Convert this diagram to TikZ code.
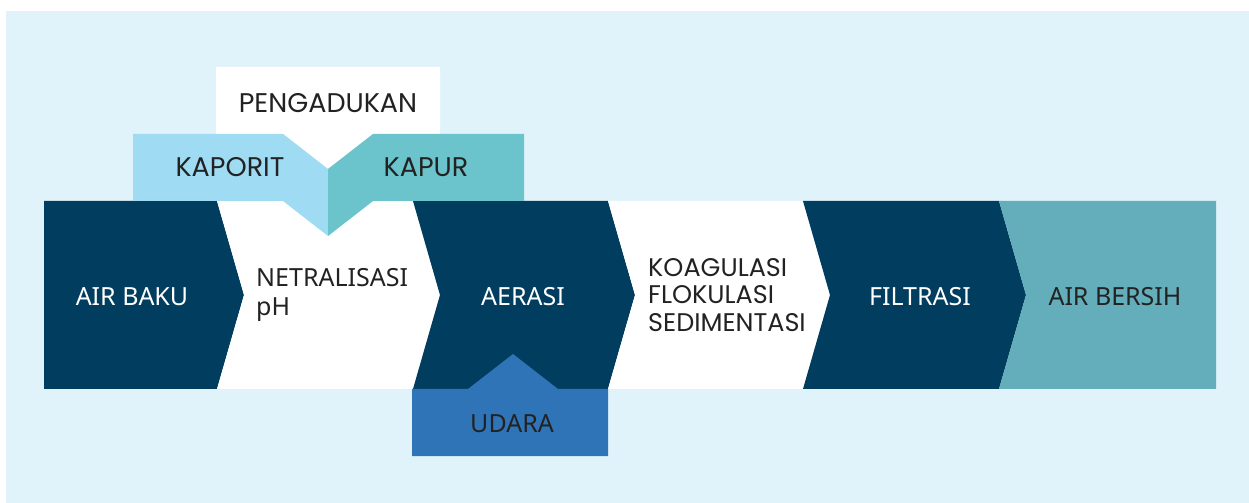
\documentclass[tikz,border=0pt]{standalone}
\usepackage{fontspec}
\setmainfont{Noto Sans}
\newfontfamily\popfont{Poppins}
\definecolor{bgc}{HTML}{E0F3FA}
\definecolor{navy}{HTML}{003D5F}
\definecolor{kaporitc}{HTML}{9FDBF3}
\definecolor{kapurc}{HTML}{6BC4CB}
\definecolor{bersihc}{HTML}{64AEBC}
\definecolor{udarac}{HTML}{3074B8}
\definecolor{txt}{HTML}{222222}
\tikzset{
  lbl/.style={inner sep=0pt, text=txt, font=\fontsize{25bp}{29bp}\selectfont},
  lblw/.style={lbl, text=white},
  toplbl/.style={inner sep=0pt, text=txt, font=\popfont\fontsize{27bp}{30bp}\selectfont},
  multi/.style={lbl, align=left, anchor=west},
}
\begin{document}
\begin{tikzpicture}[x=1bp,y=-1bp]
\useasboundingbox (0,0) rectangle (1249,503);
\fill[bgc] (6,11) rectangle (1249,503);
% chevrons
\fill[navy] (44,201) -- (217,201) -- (244,295) -- (217,389) -- (44,389) -- cycle;
\fill[white] (217,201) -- (413,201) -- (440,295) -- (413,389) -- (217,389) -- (244,295) -- cycle;
\fill[navy] (413,201) -- (608,201) -- (635,295) -- (608,389) -- (413,389) -- (440,295) -- cycle;
\fill[white] (608,201) -- (803,201) -- (830,295) -- (803,389) -- (608,389) -- (635,295) -- cycle;
\fill[navy] (803,201) -- (999,201) -- (1026,295) -- (999,389) -- (803,389) -- (830,295) -- cycle;
\fill[bersihc] (999,201) -- (1216,201) -- (1216,389) -- (999,389) -- (1026,295) -- cycle;
% top boxes
\fill[white] (216,67) -- (440,67) -- (440,134) -- (373,134) -- (328,169) -- (283,134) -- (216,134) -- cycle;
\fill[kaporitc] (133,134) -- (283,134) -- (328,169) -- (328,236) -- (283,201) -- (133,201) -- cycle;
\fill[kapurc] (524,134) -- (373,134) -- (328,169) -- (328,236) -- (373,201) -- (524,201) -- cycle;
% udara
\fill[udarac] (412,389) -- (468,389) -- (513,354) -- (558,389) -- (608,389) -- (608,456) -- (412,456) -- cycle;
% labels
\node[toplbl] (peng) at (328,103) {PENGADUKAN};
\node[toplbl] (kaporit) at (230,167) {KAPORIT};
\node[toplbl] (kapur) at (426,167) {KAPUR};
\node[lblw] (baku) at (132,297) {AIR BAKU};
\node[multi] (netral) at (256,295) {NETRALISASI\\pH};
\node[lblw] (aerasi) at (523,297) {AERASI};
\node[multi, font=\popfont\fontsize{25.5bp}{27.5bp}\selectfont] (koag) at (648,295) {KOAGULASI\\FLOKULASI\\SEDIMENTASI};
\node[lblw] (filtrasi) at (920,297) {FILTRASI};
\node[lbl] (bersih) at (1115,297) {AIR BERSIH};
\node[lbl] (udara) at (512,424) {UDARA};
\end{tikzpicture}
\end{document}
